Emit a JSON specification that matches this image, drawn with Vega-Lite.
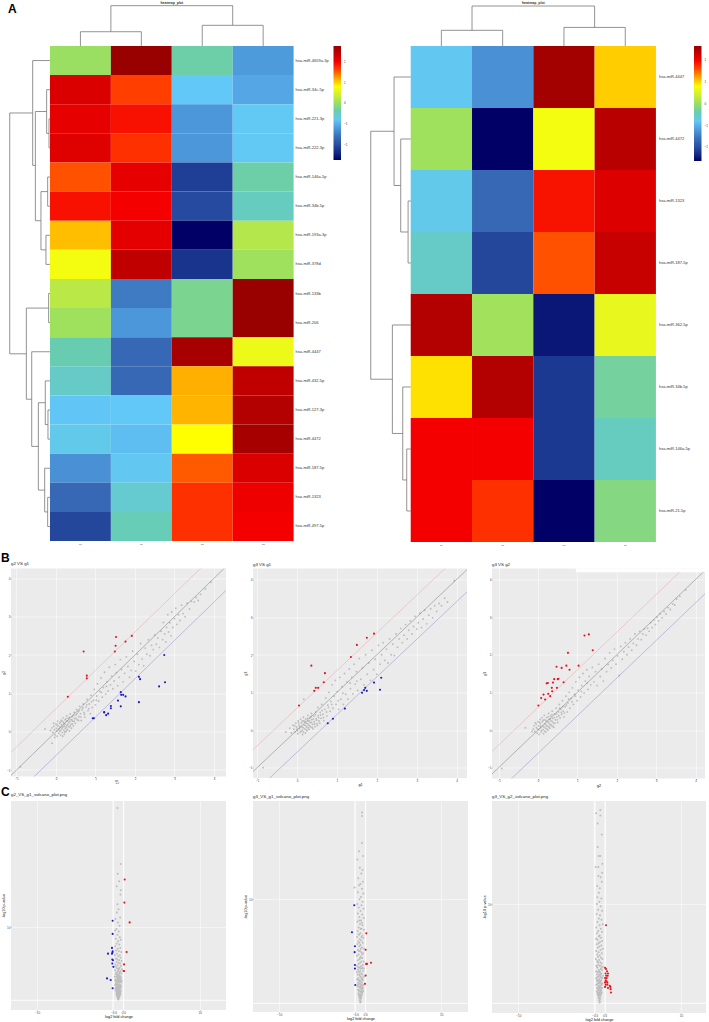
{"$schema":"https://vega.github.io/schema/vega-lite/v6.json","padding":0,"background":"white","columns":5,"align":"none","bounds":"flush","spacing":{"row":22.5,"column":0},
"config":{"view":{"stroke":null},"font":"Liberation Sans","axis":{"domain":false,"tickColor":"#333333","tickSize":0.8,"tickWidth":0.4,"labelFontSize":3,"labelColor":"#4d4d4d","labelPadding":0.3,"titleFontSize":3.8,"titleFontWeight":"normal","titleColor":"#111111","titlePadding":0.8,"gridColor":"#ffffff","gridWidth":0.5,"labelOverlap":false,"labelFont":"Liberation Sans","titleFont":"Liberation Sans"},"title":{"font":"Liberation Sans","fontSize":4.4,"fontWeight":"normal","anchor":"start","frame":"group","offset":1.5,"color":"#222222"}},
"datasets":{
"h1":[{"x":0,"x2":1,"y":0,"y2":1,"v":0},{"x":1,"x2":2,"y":0,"y2":1,"v":1.38},{"x":2,"x2":3,"y":0,"y2":1,"v":-0.18},{"x":3,"x2":4,"y":0,"y2":1,"v":-0.6},
{"x":0,"x2":1,"y":1,"y2":2,"v":1.1},{"x":1,"x2":2,"y":1,"y2":2,"v":0.82},{"x":2,"x2":3,"y":1,"y2":2,"v":-0.42},{"x":3,"x2":4,"y":1,"y2":2,"v":-0.55},
{"x":0,"x2":1,"y":2,"y2":3,"v":1.05},{"x":1,"x2":2,"y":2,"y2":3,"v":0.95},{"x":2,"x2":3,"y":2,"y2":3,"v":-0.62},{"x":3,"x2":4,"y":2,"y2":3,"v":-0.41},
{"x":0,"x2":1,"y":3,"y2":4,"v":1.08},{"x":1,"x2":2,"y":3,"y2":4,"v":0.85},{"x":2,"x2":3,"y":3,"y2":4,"v":-0.62},{"x":3,"x2":4,"y":3,"y2":4,"v":-0.41},
{"x":0,"x2":1,"y":4,"y2":5,"v":0.78},{"x":1,"x2":2,"y":4,"y2":5,"v":1.05},{"x":2,"x2":3,"y":4,"y2":5,"v":-1.1},{"x":3,"x2":4,"y":4,"y2":5,"v":-0.18},
{"x":0,"x2":1,"y":5,"y2":6,"v":0.95},{"x":1,"x2":2,"y":5,"y2":6,"v":1},{"x":2,"x2":3,"y":5,"y2":6,"v":-1.03},{"x":3,"x2":4,"y":5,"y2":6,"v":-0.25},
{"x":0,"x2":1,"y":6,"y2":7,"v":0.55},{"x":1,"x2":2,"y":6,"y2":7,"v":1.06},{"x":2,"x2":3,"y":6,"y2":7,"v":-1.38},{"x":3,"x2":4,"y":6,"y2":7,"v":0.1},
{"x":0,"x2":1,"y":7,"y2":8,"v":0.36},{"x":1,"x2":2,"y":7,"y2":8,"v":1.2},{"x":2,"x2":3,"y":7,"y2":8,"v":-1.15},{"x":3,"x2":4,"y":7,"y2":8,"v":0.02},
{"x":0,"x2":1,"y":8,"y2":9,"v":0.12},{"x":1,"x2":2,"y":8,"y2":9,"v":-0.75},{"x":2,"x2":3,"y":8,"y2":9,"v":-0.12},{"x":3,"x2":4,"y":8,"y2":9,"v":1.38},
{"x":0,"x2":1,"y":9,"y2":10,"v":0.02},{"x":1,"x2":2,"y":9,"y2":10,"v":-0.62},{"x":2,"x2":3,"y":9,"y2":10,"v":-0.12},{"x":3,"x2":4,"y":9,"y2":10,"v":1.38},
{"x":0,"x2":1,"y":10,"y2":11,"v":-0.2},{"x":1,"x2":2,"y":10,"y2":11,"v":-0.85},{"x":2,"x2":3,"y":10,"y2":11,"v":1.32},{"x":3,"x2":4,"y":10,"y2":11,"v":0.32},
{"x":0,"x2":1,"y":11,"y2":12,"v":-0.27},{"x":1,"x2":2,"y":11,"y2":12,"v":-0.85},{"x":2,"x2":3,"y":11,"y2":12,"v":0.58},{"x":3,"x2":4,"y":11,"y2":12,"v":1.2},
{"x":0,"x2":1,"y":12,"y2":13,"v":-0.43},{"x":1,"x2":2,"y":12,"y2":13,"v":-0.42},{"x":2,"x2":3,"y":12,"y2":13,"v":0.57},{"x":3,"x2":4,"y":12,"y2":13,"v":1.26},
{"x":0,"x2":1,"y":13,"y2":14,"v":-0.38},{"x":1,"x2":2,"y":13,"y2":14,"v":-0.46},{"x":2,"x2":3,"y":13,"y2":14,"v":0.42},{"x":3,"x2":4,"y":13,"y2":14,"v":1.32},
{"x":0,"x2":1,"y":14,"y2":15,"v":-0.65},{"x":1,"x2":2,"y":14,"y2":15,"v":-0.4},{"x":2,"x2":3,"y":14,"y2":15,"v":0.76},{"x":3,"x2":4,"y":14,"y2":15,"v":1.1},
{"x":0,"x2":1,"y":15,"y2":16,"v":-0.85},{"x":1,"x2":2,"y":15,"y2":16,"v":-0.3},{"x":2,"x2":3,"y":15,"y2":16,"v":0.85},{"x":3,"x2":4,"y":15,"y2":16,"v":1.02},
{"x":0,"x2":1,"y":16,"y2":17,"v":-1.05},{"x":1,"x2":2,"y":16,"y2":17,"v":-0.22},{"x":2,"x2":3,"y":16,"y2":17,"v":0.85},{"x":3,"x2":4,"y":16,"y2":17,"v":1}],
"h2":[{"x":0,"x2":1,"y":0,"y2":1,"v":-0.4},{"x":1,"x2":2,"y":0,"y2":1,"v":-0.65},{"x":2,"x2":3,"y":0,"y2":1,"v":1.28},{"x":3,"x2":4,"y":0,"y2":1,"v":0.52},
{"x":0,"x2":1,"y":1,"y2":2,"v":0.02},{"x":1,"x2":2,"y":1,"y2":2,"v":-1.32},{"x":2,"x2":3,"y":1,"y2":2,"v":0.36},{"x":3,"x2":4,"y":1,"y2":2,"v":1.2},
{"x":0,"x2":1,"y":2,"y2":3,"v":-0.38},{"x":1,"x2":2,"y":2,"y2":3,"v":-0.85},{"x":2,"x2":3,"y":2,"y2":3,"v":0.94},{"x":3,"x2":4,"y":2,"y2":3,"v":1.08},
{"x":0,"x2":1,"y":3,"y2":4,"v":-0.27},{"x":1,"x2":2,"y":3,"y2":4,"v":-1.05},{"x":2,"x2":3,"y":3,"y2":4,"v":0.78},{"x":3,"x2":4,"y":3,"y2":4,"v":1.15},
{"x":0,"x2":1,"y":4,"y2":5,"v":1.22},{"x":1,"x2":2,"y":4,"y2":5,"v":0.03},{"x":2,"x2":3,"y":4,"y2":5,"v":-1.24},{"x":3,"x2":4,"y":4,"y2":5,"v":0.3},
{"x":0,"x2":1,"y":5,"y2":6,"v":0.48},{"x":1,"x2":2,"y":5,"y2":6,"v":1.22},{"x":2,"x2":3,"y":5,"y2":6,"v":-1.12},{"x":3,"x2":4,"y":5,"y2":6,"v":-0.15},
{"x":0,"x2":1,"y":6,"y2":7,"v":1},{"x":1,"x2":2,"y":6,"y2":7,"v":1},{"x":2,"x2":3,"y":6,"y2":7,"v":-1.12},{"x":3,"x2":4,"y":6,"y2":7,"v":-0.25},
{"x":0,"x2":1,"y":7,"y2":8,"v":1},{"x":1,"x2":2,"y":7,"y2":8,"v":0.85},{"x":2,"x2":3,"y":7,"y2":8,"v":-1.32},{"x":3,"x2":4,"y":7,"y2":8,"v":-0.08}],
"t1":[{"x":4.033,"y":0.5,"t":"hsa-miR-4659a-3p"},{"x":4.033,"y":1.5,"t":"hsa-miR-34c-5p"},{"x":4.033,"y":2.5,"t":"hsa-miR-221-3p"},{"x":4.033,"y":3.5,"t":"hsa-miR-222-3p"},{"x":4.033,"y":4.5,"t":"hsa-miR-146a-5p"},{"x":4.033,"y":5.5,"t":"hsa-miR-34b-5p"},{"x":4.033,"y":6.5,"t":"hsa-miR-193a-3p"},{"x":4.033,"y":7.5,"t":"hsa-miR-378d"},{"x":4.033,"y":8.5,"t":"hsa-miR-133b"},{"x":4.033,"y":9.5,"t":"hsa-miR-206"},{"x":4.033,"y":10.5,"t":"hsa-miR-4447"},{"x":4.033,"y":11.5,"t":"hsa-miR-432-5p"},{"x":4.033,"y":12.5,"t":"hsa-miR-127-3p"},{"x":4.033,"y":13.5,"t":"hsa-miR-4472"},{"x":4.033,"y":14.5,"t":"hsa-miR-187-5p"},{"x":4.033,"y":15.5,"t":"hsa-miR-1323"},{"x":4.033,"y":16.5,"t":"hsa-miR-497-5p"}],
"t2":[{"x":4.05,"y":0.5,"t":"hsa-miR-4447"},{"x":4.05,"y":1.5,"t":"hsa-miR-4472"},{"x":4.05,"y":2.5,"t":"hsa-miR-1323"},{"x":4.05,"y":3.5,"t":"hsa-miR-187-5p"},{"x":4.05,"y":4.5,"t":"hsa-miR-362-5p"},{"x":4.05,"y":5.5,"t":"hsa-miR-34b-5p"},{"x":4.05,"y":6.5,"t":"hsa-miR-146a-5p"},{"x":4.05,"y":7.5,"t":"hsa-miR-21-5p"}],
"d1":[{"x":-0.016,"x2":0,"y":2.5,"y2":2.5},{"x":-0.016,"x2":0,"y":3.5,"y2":3.5},{"x":-0.016,"x2":-0.016,"y":2.5,"y2":3.5},{"x":-0.055,"x2":0,"y":1.5,"y2":1.5},{"x":-0.055,"x2":-0.016,"y":3,"y2":3},{"x":-0.055,"x2":-0.055,"y":1.5,"y2":3},{"x":-0.038,"x2":0,"y":4.5,"y2":4.5},{"x":-0.038,"x2":0,"y":5.5,"y2":5.5},{"x":-0.038,"x2":-0.038,"y":4.5,"y2":5.5},{"x":-0.066,"x2":0,"y":6.5,"y2":6.5},{"x":-0.066,"x2":0,"y":7.5,"y2":7.5},{"x":-0.066,"x2":-0.066,"y":6.5,"y2":7.5},{"x":-0.148,"x2":-0.038,"y":5,"y2":5},{"x":-0.148,"x2":-0.066,"y":7,"y2":7},{"x":-0.148,"x2":-0.148,"y":5,"y2":7},{"x":-0.24,"x2":-0.055,"y":2.25,"y2":2.25},{"x":-0.24,"x2":-0.148,"y":6,"y2":6},{"x":-0.24,"x2":-0.24,"y":2.25,"y2":6},{"x":-0.284,"x2":0,"y":0.5,"y2":0.5},{"x":-0.284,"x2":-0.24,"y":4.1,"y2":4.1},{"x":-0.284,"x2":-0.284,"y":0.5,"y2":4.1},{"x":-0.022,"x2":0,"y":8.5,"y2":8.5},{"x":-0.022,"x2":0,"y":9.5,"y2":9.5},{"x":-0.022,"x2":-0.022,"y":8.5,"y2":9.5},{"x":-0.033,"x2":0,"y":12.5,"y2":12.5},{"x":-0.033,"x2":0,"y":13.5,"y2":13.5},{"x":-0.033,"x2":-0.033,"y":12.5,"y2":13.5},{"x":-0.077,"x2":0,"y":11.5,"y2":11.5},{"x":-0.077,"x2":-0.033,"y":13,"y2":13},{"x":-0.077,"x2":-0.077,"y":11.5,"y2":13},{"x":-0.038,"x2":0,"y":15.5,"y2":15.5},{"x":-0.038,"x2":0,"y":16.5,"y2":16.5},{"x":-0.038,"x2":-0.038,"y":15.5,"y2":16.5},{"x":-0.087,"x2":0,"y":14.5,"y2":14.5},{"x":-0.087,"x2":-0.038,"y":16,"y2":16},{"x":-0.087,"x2":-0.087,"y":14.5,"y2":16},{"x":-0.191,"x2":-0.077,"y":12.25,"y2":12.25},{"x":-0.191,"x2":-0.087,"y":15.25,"y2":15.25},{"x":-0.191,"x2":-0.191,"y":12.25,"y2":15.25},{"x":-0.3,"x2":0,"y":10.5,"y2":10.5},{"x":-0.3,"x2":-0.191,"y":13.75,"y2":13.75},{"x":-0.3,"x2":-0.3,"y":10.5,"y2":13.75},{"x":-0.388,"x2":-0.022,"y":9,"y2":9},{"x":-0.388,"x2":-0.3,"y":12.13,"y2":12.13},{"x":-0.388,"x2":-0.388,"y":9,"y2":12.13},{"x":-0.661,"x2":-0.284,"y":2.3,"y2":2.3},{"x":-0.661,"x2":-0.388,"y":10.57,"y2":10.57},{"x":-0.661,"x2":-0.661,"y":2.3,"y2":10.57},
{"x":0.5,"x2":0.5,"y":-0.49,"y2":0},{"x":1.5,"x2":1.5,"y":-0.49,"y2":0},{"x":0.5,"x2":1.5,"y":-0.49,"y2":-0.49},{"x":2.5,"x2":2.5,"y":-0.71,"y2":0},{"x":3.5,"x2":3.5,"y":-0.71,"y2":0},{"x":2.5,"x2":3.5,"y":-0.71,"y2":-0.71},{"x":1,"x2":1,"y":-1.385,"y2":-0.49},{"x":3,"x2":3,"y":-1.385,"y2":-0.71},{"x":1,"x2":3,"y":-1.385,"y2":-1.385}],
"d2":[{"x":-0.043,"x2":0,"y":2.5,"y2":2.5},{"x":-0.043,"x2":0,"y":3.5,"y2":3.5},{"x":-0.043,"x2":-0.043,"y":2.5,"y2":3.5},{"x":-0.163,"x2":0,"y":1.5,"y2":1.5},{"x":-0.163,"x2":-0.043,"y":3,"y2":3},{"x":-0.163,"x2":-0.163,"y":1.5,"y2":3},{"x":-0.272,"x2":0,"y":0.5,"y2":0.5},{"x":-0.272,"x2":-0.163,"y":2.25,"y2":2.25},{"x":-0.272,"x2":-0.272,"y":0.5,"y2":2.25},{"x":-0.065,"x2":0,"y":6.5,"y2":6.5},{"x":-0.065,"x2":0,"y":7.5,"y2":7.5},{"x":-0.065,"x2":-0.065,"y":6.5,"y2":7.5},{"x":-0.13,"x2":0,"y":5.5,"y2":5.5},{"x":-0.13,"x2":-0.065,"y":7,"y2":7},{"x":-0.13,"x2":-0.13,"y":5.5,"y2":7},{"x":-0.299,"x2":0,"y":4.5,"y2":4.5},{"x":-0.299,"x2":-0.13,"y":6.25,"y2":6.25},{"x":-0.299,"x2":-0.299,"y":4.5,"y2":6.25},{"x":-0.652,"x2":-0.272,"y":1.375,"y2":1.375},{"x":-0.652,"x2":-0.299,"y":5.375,"y2":5.375},{"x":-0.652,"x2":-0.652,"y":1.375,"y2":5.375},
{"x":0.5,"x2":0.5,"y":-0.253,"y2":0},{"x":1.5,"x2":1.5,"y":-0.253,"y2":0},{"x":0.5,"x2":1.5,"y":-0.253,"y2":-0.253},{"x":2.5,"x2":2.5,"y":-0.3,"y2":0},{"x":3.5,"x2":3.5,"y":-0.3,"y2":0},{"x":2.5,"x2":3.5,"y":-0.3,"y2":-0.3},{"x":1,"x2":1,"y":-0.645,"y2":-0.253},{"x":3,"x2":3,"y":-0.645,"y2":-0.3},{"x":1,"x2":3,"y":-0.645,"y2":-0.645}],
"b1c":[{"x":0.3,"y":0.91,"c":"up"},{"x":0.7,"y":2.09,"c":"up"},{"x":0.78,"y":1.46,"c":"up"},{"x":0.78,"y":1.39,"c":"up"},{"x":1.49,"y":2.09,"c":"up"},{"x":1.51,"y":2.24,"c":"up"},{"x":1.52,"y":2.47,"c":"up"},{"x":1.76,"y":2.35,"c":"up"},{"x":1.92,"y":2.5,"c":"up"},
{"x":0.96,"y":0.35,"c":"down"},{"x":0.93,"y":0.35,"c":"down"},{"x":1.22,"y":0.51,"c":"down"},{"x":1.22,"y":0.5,"c":"down"},{"x":1.27,"y":0.43,"c":"down"},{"x":1.32,"y":0.47,"c":"down"},{"x":1.39,"y":0.67,"c":"down"},{"x":1.39,"y":0.61,"c":"down"},{"x":1.57,"y":0.81,"c":"down"},{"x":1.64,"y":0.66,"c":"down"},{"x":1.64,"y":1.03,"c":"down"},{"x":1.65,"y":0.96,"c":"down"},{"x":1.7,"y":0.96,"c":"down"},{"x":1.76,"y":0.92,"c":"down"},{"x":2.1,"y":0.77,"c":"down"},{"x":2.1,"y":1.43,"c":"down"},{"x":2.13,"y":1.37,"c":"down"},{"x":2.61,"y":1.18,"c":"down"},{"x":2.76,"y":1.29,"c":"down"},{"x":2.74,"y":2,"c":"down"}],
"b2c":[{"x":0.05,"y":0.65,"c":"up"},{"x":0.36,"y":1.71,"c":"up"},{"x":0.43,"y":1.04,"c":"up"},{"x":0.47,"y":1.12,"c":"up"},{"x":0.53,"y":1.12,"c":"up"},{"x":0.67,"y":1.27,"c":"up"},{"x":0.7,"y":1.51,"c":"up"},{"x":1.35,"y":1.94,"c":"up"},{"x":1.5,"y":2.26,"c":"up"},{"x":1.75,"y":2.45,"c":"up"},{"x":1.93,"y":2.56,"c":"up"},
{"x":0.77,"y":0.18,"c":"down"},{"x":0.9,"y":0.3,"c":"down"},{"x":1.2,"y":0.57,"c":"down"},{"x":1.63,"y":0.99,"c":"down"},{"x":1.68,"y":1.06,"c":"down"},{"x":1.71,"y":1.12,"c":"down"},{"x":1.75,"y":1.04,"c":"down"},{"x":1.93,"y":1.26,"c":"down"},{"x":2.08,"y":1.07,"c":"down"},{"x":2.11,"y":1.39,"c":"down"}],
"b3c":[{"x":0.01,"y":0.65,"c":"up"},{"x":0.08,"y":0.85,"c":"up"},{"x":0.14,"y":0.94,"c":"up"},{"x":0.18,"y":0.81,"c":"up"},{"x":0.26,"y":0.96,"c":"up"},{"x":0.31,"y":0.9,"c":"up"},{"x":0.35,"y":1.12,"c":"up"},{"x":0.36,"y":1.03,"c":"up"},{"x":0.38,"y":1.26,"c":"up"},{"x":0.22,"y":1.24,"c":"up"},{"x":0.25,"y":1.25,"c":"up"},{"x":0.41,"y":1.35,"c":"up"},{"x":0.47,"y":1.68,"c":"up"},{"x":0.48,"y":1.12,"c":"up"},{"x":0.5,"y":1.35,"c":"up"},{"x":0.52,"y":1.36,"c":"up"},{"x":0.6,"y":1.65,"c":"up"},{"x":0.65,"y":1.27,"c":"up"},{"x":0.72,"y":1.71,"c":"up"},{"x":0.76,"y":2.05,"c":"up"},{"x":0.8,"y":1.6,"c":"up"},{"x":1.03,"y":1.71,"c":"up"},{"x":1.18,"y":2.51,"c":"up"},{"x":1.29,"y":2.54,"c":"up"},{"x":1.39,"y":2.12,"c":"up"}],
"c1c":[{"x":0.78,"y":1.58,"c":"up"},{"x":0.74,"y":1.3,"c":"up"},{"x":1.39,"y":1.06,"c":"up"},{"x":1.02,"y":0.7,"c":"up"},{"x":0.7,"y":0.55,"c":"up"},{"x":0.7,"y":0.47,"c":"up"},{"x":0.65,"y":0.47,"c":"up"},
{"x":-0.7,"y":1.08,"c":"down"},{"x":-0.7,"y":0.92,"c":"down"},{"x":-0.78,"y":0.75,"c":"down"},{"x":-0.7,"y":0.71,"c":"down"},{"x":-0.72,"y":0.69,"c":"down"},{"x":-0.78,"y":0.68,"c":"down"},{"x":-1.27,"y":0.68,"c":"down"},{"x":-0.74,"y":0.61,"c":"down"},{"x":-0.66,"y":0.6,"c":"down"},{"x":-0.74,"y":0.56,"c":"down"},{"x":-0.61,"y":0.52,"c":"down"},{"x":-1.39,"y":0.38,"c":"down"},{"x":-0.94,"y":0.36,"c":"down"},{"x":-0.7,"y":0.26,"c":"down"}],
"c2c":[{"x":0.74,"y":0.71,"c":"up"},{"x":0.66,"y":0.57,"c":"up"},{"x":0.82,"y":0.45,"c":"up"},{"x":0.72,"y":0.45,"c":"up"},{"x":1.32,"y":0.46,"c":"up"},{"x":0.66,"y":0.35,"c":"up"},{"x":0.58,"y":0.28,"c":"up"},
{"x":-0.74,"y":0.95,"c":"down"},{"x":-1.03,"y":0.72,"c":"down"},{"x":-0.66,"y":0.6,"c":"down"},{"x":-0.7,"y":0.55,"c":"down"},{"x":-0.66,"y":0.44,"c":"down"},{"x":-0.66,"y":0.41,"c":"down"},{"x":-0.62,"y":0.27,"c":"down"}],
"c3c":[{"x":0.78,"y":0.81,"c":"up"},{"x":0.66,"y":0.43,"c":"up"},{"x":0.78,"y":0.42,"c":"up"},{"x":0.9,"y":0.4,"c":"up"},{"x":1.02,"y":0.38,"c":"up"},{"x":0.98,"y":0.36,"c":"up"},{"x":0.66,"y":0.34,"c":"up"},{"x":0.74,"y":0.32,"c":"up"},{"x":0.82,"y":0.31,"c":"up"},{"x":0.94,"y":0.3,"c":"up"},{"x":0.66,"y":0.3,"c":"up"},{"x":0.74,"y":0.28,"c":"up"},{"x":0.94,"y":0.28,"c":"up"},{"x":1.23,"y":0.27,"c":"up"},{"x":1.31,"y":0.26,"c":"up"},{"x":1.02,"y":0.25,"c":"up"},{"x":0.66,"y":0.26,"c":"up"},{"x":1.39,"y":0.21,"c":"up"},{"x":1.35,"y":0.24,"c":"up"},{"x":0.8,"y":0.36,"c":"up"},{"x":0.72,"y":0.38,"c":"up"},{"x":0.86,"y":0.34,"c":"up"}],
"b1g":[{"x":-0.14,"y":0.03},{"x":-0.1,"y":0.1},{"x":-0.08,"y":-0.02},{"x":-0.05,"y":0.14},{"x":-0.04,"y":0.05},{"x":-0.02,"y":-0.08},{"x":0,"y":0.2},{"x":0.01,"y":0.09},{"x":0.02,"y":0.01},{"x":0.03,"y":-0.12},{"x":0.04,"y":0.27},{"x":0.05,"y":0.15},{"x":0.06,"y":0.05},{"x":0.07,"y":-0.04},{"x":0.09,"y":0.22},{"x":0.1,"y":0.12},{"x":0.1,"y":0.01},{"x":0.12,"y":-0.09},{"x":0.13,"y":0.3},{"x":0.14,"y":0.18},{"x":0.15,"y":0.08},{"x":0.16,"y":-0.02},{"x":0.18,"y":0.36},{"x":0.18,"y":0.25},{"x":0.19,"y":0.13},{"x":0.2,"y":0.04},{"x":0.21,"y":-0.07},{"x":0.23,"y":0.31},{"x":0.23,"y":0.2},{"x":0.24,"y":0.09},{"x":0.25,"y":0},{"x":0.27,"y":0.41},{"x":0.27,"y":0.27},{"x":0.28,"y":0.16},{"x":0.29,"y":0.06},{"x":0.31,"y":0.35},{"x":0.32,"y":0.23},{"x":0.33,"y":0.12},{"x":0.34,"y":0.02},{"x":0.36,"y":0.46},{"x":0.37,"y":0.31},{"x":0.38,"y":0.19},{"x":0.39,"y":0.09},{"x":0.41,"y":0.39},{"x":0.42,"y":0.27},{"x":0.44,"y":0.15},{"x":0.46,"y":0.5},{"x":0.47,"y":0.34},{"x":0.49,"y":0.22},{"x":0.51,"y":0.44},{"x":0.52,"y":0.58},{"x":0.54,"y":0.31},{"x":0.56,"y":0.52},{"x":0.58,"y":0.39},{"x":0.6,"y":0.66},{"x":0.62,"y":0.47},{"x":0.64,"y":0.29},{"x":0.66,"y":0.57},{"x":0.69,"y":0.72},{"x":0.71,"y":0.5},{"x":0.73,"y":0.38},{"x":0.76,"y":0.64},{"x":0.79,"y":0.84},{"x":0.81,"y":0.55},{"x":0.84,"y":0.72},{"x":0.87,"y":0.47},{"x":0.89,"y":0.95},{"x":0.92,"y":0.63},{"x":0.95,"y":0.82},{"x":0.97,"y":1.1},{"x":1,"y":0.7},{"x":1.03,"y":0.93},{"x":1.05,"y":1.25},{"x":1.08,"y":0.8},{"x":1.11,"y":1.05},{"x":1.14,"y":1.4},{"x":1.17,"y":0.9},{"x":1.2,"y":1.15},{"x":1.23,"y":1.55},{"x":1.26,"y":0.98},{"x":1.29,"y":1.3},{"x":1.32,"y":1.06},{"x":1.35,"y":1.68},{"x":1.38,"y":1.22},{"x":1.41,"y":1.45},{"x":1.44,"y":1.12},{"x":1.47,"y":1.32},{"x":1.5,"y":1.75},{"x":1.53,"y":1.54},{"x":1.56,"y":1.2},{"x":1.6,"y":1.42},{"x":1.63,"y":1.88},{"x":1.66,"y":1.62},{"x":1.7,"y":1.3},{"x":1.74,"y":1.52},{"x":1.78,"y":1.95},{"x":1.82,"y":1.7},{"x":1.86,"y":1.42},{"x":1.9,"y":1.6},{"x":1.94,"y":2.1},{"x":1.98,"y":1.83},{"x":2.02,"y":1.58},{"x":2.06,"y":2.02},{"x":2.1,"y":1.75},{"x":2.14,"y":2.3},{"x":2.18,"y":1.9},{"x":2.22,"y":1.72},{"x":2.26,"y":2.18},{"x":2.3,"y":2.02},{"x":2.34,"y":2.4},{"x":2.38,"y":1.98},{"x":2.42,"y":2.25},{"x":2.46,"y":2.14},{"x":2.5,"y":2.52},{"x":2.54,"y":2.28},{"x":2.58,"y":2.44},{"x":2.62,"y":2.2},{"x":2.66,"y":2.62},{"x":2.7,"y":2.4},{"x":2.72,"y":2.85},{"x":2.75,"y":2.55},{"x":2.78,"y":2.34},{"x":2.8,"y":2.72},{"x":2.83,"y":3.05},{"x":2.85,"y":2.6},{"x":2.88,"y":2.84},{"x":2.91,"y":2.5},{"x":2.93,"y":3.12},{"x":2.96,"y":2.72},{"x":3,"y":2.95},{"x":3.03,"y":3.22},{"x":3.06,"y":2.8},{"x":3.1,"y":3.05},{"x":3.14,"y":2.9},{"x":3.18,"y":3.3},{"x":3.22,"y":3.08},{"x":3.27,"y":3},{"x":3.32,"y":3.35},{"x":3.38,"y":3.2},{"x":3.43,"y":3.4},{"x":3.5,"y":3.38},{"x":3.55,"y":3.5},{"x":3.6,"y":3.42},{"x":3.66,"y":3.58},{"x":3.78,"y":3.72},{"x":3.92,"y":3.9},{"x":-0.9,"y":-0.92},{"x":-0.1,"y":-0.3},{"x":-0.28,"y":0.07},{"x":-0.06,"y":0.22},{"x":-0.03,"y":-0.15},{"x":0.03,"y":0.17},{"x":0.08,"y":0.08},{"x":0.11,"y":0.25},{"x":0.12,"y":0.04},{"x":0.15,"y":0.28},{"x":0.16,"y":0.11},{"x":0.17,"y":-0.12},{"x":0.2,"y":0.22},{"x":0.21,"y":0.15},{"x":0.22,"y":-0.01},{"x":0.25,"y":0.34},{"x":0.26,"y":0.12},{"x":0.27,"y":0.03},{"x":0.3,"y":0.28},{"x":0.3,"y":0.18},{"x":0.34,"y":0.38},{"x":0.35,"y":0.26},{"x":0.36,"y":0.14},{"x":0.4,"y":0.31},{"x":0.41,"y":0.2},{"x":0.45,"y":0.42},{"x":0.46,"y":0.27},{"x":0.5,"y":0.35},{"x":0.53,"y":0.47},{"x":0.57,"y":0.29},{"x":0.59,"y":0.55},{"x":0.63,"y":0.38},{"x":0.68,"y":0.62},{"x":0.72,"y":0.45},{"x":0.78,"y":0.7},{"x":0.83,"y":0.6},{"x":0.9,"y":0.78},{"x":1.02,"y":0.82},{"x":1.15,"y":1.02},{"x":1.28,"y":1.18}],
"b2g":[{"x":-0.18,"y":0.05},{"x":-0.14,"y":-0.08},{"x":-0.1,"y":0.13},{"x":-0.08,"y":0.02},{"x":-0.05,"y":-0.05},{"x":-0.03,"y":0.18},{"x":-0.01,"y":0.08},{"x":0.01,"y":-0.02},{"x":0.02,"y":-0.1},{"x":0.03,"y":0.24},{"x":0.05,"y":0.13},{"x":0.06,"y":0.04},{"x":0.08,"y":-0.06},{"x":0.09,"y":0.29},{"x":0.11,"y":0.19},{"x":0.12,"y":0.08},{"x":0.13,"y":-0.01},{"x":0.14,"y":-0.12},{"x":0.16,"y":0.34},{"x":0.17,"y":0.24},{"x":0.18,"y":0.13},{"x":0.19,"y":0.03},{"x":0.21,"y":-0.08},{"x":0.22,"y":0.29},{"x":0.23,"y":0.18},{"x":0.24,"y":0.08},{"x":0.25,"y":-0.02},{"x":0.27,"y":0.39},{"x":0.28,"y":0.24},{"x":0.29,"y":0.13},{"x":0.3,"y":0.02},{"x":0.32,"y":0.33},{"x":0.33,"y":0.2},{"x":0.34,"y":0.08},{"x":0.36,"y":0.44},{"x":0.37,"y":0.28},{"x":0.39,"y":0.15},{"x":0.4,"y":0.03},{"x":0.42,"y":0.37},{"x":0.43,"y":0.22},{"x":0.45,"y":0.09},{"x":0.47,"y":0.48},{"x":0.48,"y":0.3},{"x":0.5,"y":0.17},{"x":0.52,"y":0.6},{"x":0.53,"y":0.38},{"x":0.55,"y":0.24},{"x":0.58,"y":0.47},{"x":0.6,"y":0.31},{"x":0.62,"y":0.68},{"x":0.65,"y":0.42},{"x":0.67,"y":0.25},{"x":0.7,"y":0.55},{"x":0.72,"y":0.85},{"x":0.75,"y":0.37},{"x":0.77,"y":0.66},{"x":0.8,"y":1},{"x":0.83,"y":0.5},{"x":0.85,"y":0.76},{"x":0.88,"y":1.2},{"x":0.9,"y":0.58},{"x":0.93,"y":0.9},{"x":0.96,"y":1.32},{"x":0.98,"y":0.68},{"x":1.01,"y":1.02},{"x":1.04,"y":0.55},{"x":1.07,"y":1.4},{"x":1.1,"y":0.82},{"x":1.13,"y":1.15},{"x":1.16,"y":0.68},{"x":1.19,"y":1.5},{"x":1.22,"y":0.95},{"x":1.25,"y":1.28},{"x":1.28,"y":0.82},{"x":1.31,"y":1.62},{"x":1.34,"y":1.1},{"x":1.37,"y":1.4},{"x":1.4,"y":0.96},{"x":1.43,"y":1.75},{"x":1.46,"y":1.22},{"x":1.49,"y":1.55},{"x":1.52,"y":1.05},{"x":1.56,"y":1.9},{"x":1.6,"y":1.35},{"x":1.64,"y":1.65},{"x":1.68,"y":1.2},{"x":1.72,"y":2},{"x":1.76,"y":1.48},{"x":1.8,"y":1.78},{"x":1.84,"y":1.32},{"x":1.88,"y":2.12},{"x":1.92,"y":1.6},{"x":1.96,"y":1.88},{"x":2,"y":1.48},{"x":2.04,"y":2.25},{"x":2.08,"y":1.75},{"x":2.12,"y":2},{"x":2.16,"y":2.32},{"x":2.2,"y":1.85},{"x":2.24,"y":2.15},{"x":2.28,"y":1.78},{"x":2.32,"y":2.42},{"x":2.36,"y":2},{"x":2.4,"y":2.28},{"x":2.44,"y":1.98},{"x":2.48,"y":2.55},{"x":2.52,"y":2.2},{"x":2.56,"y":2.42},{"x":2.6,"y":2.7},{"x":2.64,"y":2.32},{"x":2.68,"y":2.52},{"x":2.72,"y":2.8},{"x":2.76,"y":2.42},{"x":2.8,"y":2.65},{"x":2.84,"y":2.9},{"x":2.88,"y":2.55},{"x":2.92,"y":2.75},{"x":2.96,"y":3.02},{"x":3,"y":2.68},{"x":3.04,"y":2.85},{"x":3.08,"y":3.1},{"x":3.12,"y":2.72},{"x":3.16,"y":2.95},{"x":3.2,"y":3.18},{"x":3.25,"y":2.82},{"x":3.3,"y":3.05},{"x":3.35,"y":3.22},{"x":3.4,"y":2.98},{"x":3.45,"y":3.3},{"x":3.5,"y":3.15},{"x":3.56,"y":3.36},{"x":3.62,"y":3.3},{"x":3.7,"y":3.5},{"x":3.77,"y":3.4},{"x":-0.85,"y":-1},{"x":-0.28,"y":-0.05},{"x":0.17,"y":0.82},{"x":3.94,"y":3.97},{"x":-0.06,"y":0.11},{"x":0,"y":0.02},{"x":0.04,"y":0.19},{"x":0.07,"y":0.09},{"x":0.1,"y":-0.03},{"x":0.13,"y":0.24},{"x":0.15,"y":0.06},{"x":0.16,"y":-0.05},{"x":0.2,"y":0.22},{"x":0.21,"y":0.12},{"x":0.23,"y":0.01},{"x":0.26,"y":0.31},{"x":0.27,"y":0.17},{"x":0.28,"y":0.06},{"x":0.31,"y":0.25},{"x":0.32,"y":0.11},{"x":0.35,"y":0.36},{"x":0.36,"y":0.2},{"x":0.38,"y":0.07},{"x":0.41,"y":0.29},{"x":0.44,"y":0.16},{"x":0.46,"y":0.41},{"x":0.49,"y":0.26},{"x":0.51,"y":0.12},{"x":0.54,"y":0.33},{"x":0.57,"y":0.18},{"x":0.59,"y":0.4},{"x":0.63,"y":0.52},{"x":0.66,"y":0.33},{"x":0.74,"y":0.48},{"x":0.79,"y":0.6},{"x":0.87,"y":0.68},{"x":1.03,"y":0.78},{"x":1.15,"y":0.98},{"x":1.33,"y":1.25},{"x":1.5,"y":1.3}],
"b3g":[{"x":-0.32,"y":0.06},{"x":-0.12,"y":0.02},{"x":-0.1,"y":0.11},{"x":-0.08,"y":-0.04},{"x":-0.05,"y":0.16},{"x":-0.04,"y":0.06},{"x":-0.02,"y":-0.08},{"x":0,"y":0.22},{"x":0.01,"y":0.11},{"x":0.02,"y":0.01},{"x":0.03,"y":-0.12},{"x":0.05,"y":0.28},{"x":0.06,"y":0.17},{"x":0.07,"y":0.06},{"x":0.08,"y":-0.05},{"x":0.1,"y":0.33},{"x":0.11,"y":0.22},{"x":0.12,"y":0.11},{"x":0.13,"y":0.01},{"x":0.14,"y":-0.1},{"x":0.16,"y":0.39},{"x":0.17,"y":0.27},{"x":0.18,"y":0.16},{"x":0.19,"y":0.05},{"x":0.2,"y":-0.05},{"x":0.22,"y":0.33},{"x":0.23,"y":0.22},{"x":0.24,"y":0.1},{"x":0.25,"y":0},{"x":0.27,"y":0.44},{"x":0.28,"y":0.28},{"x":0.29,"y":0.16},{"x":0.3,"y":0.05},{"x":0.32,"y":0.37},{"x":0.33,"y":0.24},{"x":0.34,"y":0.12},{"x":0.36,"y":0.5},{"x":0.37,"y":0.31},{"x":0.39,"y":0.19},{"x":0.4,"y":0.07},{"x":0.42,"y":0.42},{"x":0.44,"y":0.27},{"x":0.46,"y":0.58},{"x":0.48,"y":0.35},{"x":0.5,"y":0.2},{"x":0.52,"y":0.48},{"x":0.54,"y":0.68},{"x":0.56,"y":0.32},{"x":0.58,"y":0.55},{"x":0.6,"y":0.42},{"x":0.62,"y":0.78},{"x":0.64,"y":0.5},{"x":0.66,"y":0.35},{"x":0.69,"y":0.62},{"x":0.71,"y":0.9},{"x":0.74,"y":0.48},{"x":0.76,"y":0.72},{"x":0.79,"y":1},{"x":0.81,"y":0.58},{"x":0.84,"y":0.84},{"x":0.87,"y":1.12},{"x":0.9,"y":0.68},{"x":0.93,"y":0.95},{"x":0.96,"y":1.28},{"x":0.99,"y":0.78},{"x":1.02,"y":1.06},{"x":1.05,"y":1.4},{"x":1.08,"y":0.88},{"x":1.11,"y":1.18},{"x":1.14,"y":1.5},{"x":1.17,"y":0.98},{"x":1.2,"y":1.3},{"x":1.24,"y":1.6},{"x":1.27,"y":1.08},{"x":1.3,"y":1.42},{"x":1.34,"y":1.2},{"x":1.38,"y":1.66},{"x":1.42,"y":1.28},{"x":1.46,"y":1.55},{"x":1.5,"y":1.18},{"x":1.54,"y":1.75},{"x":1.58,"y":1.42},{"x":1.62,"y":1.62},{"x":1.66,"y":1.3},{"x":1.7,"y":1.9},{"x":1.74,"y":1.55},{"x":1.78,"y":1.74},{"x":1.82,"y":2.05},{"x":1.86,"y":1.65},{"x":1.9,"y":1.85},{"x":1.94,"y":2.15},{"x":1.98,"y":1.75},{"x":2.02,"y":1.97},{"x":2.06,"y":1.45},{"x":2.1,"y":2.22},{"x":2.14,"y":1.88},{"x":2.18,"y":2.08},{"x":2.22,"y":2.32},{"x":2.26,"y":2},{"x":2.3,"y":2.2},{"x":2.34,"y":2.42},{"x":2.38,"y":2.12},{"x":2.42,"y":2.3},{"x":2.46,"y":2.55},{"x":2.5,"y":2.25},{"x":2.54,"y":2.42},{"x":2.58,"y":2.62},{"x":2.62,"y":2.4},{"x":2.66,"y":2.55},{"x":2.7,"y":2.68},{"x":2.74,"y":2.52},{"x":2.78,"y":2.7},{"x":2.82,"y":2.62},{"x":2.86,"y":2.85},{"x":2.9,"y":2.72},{"x":2.94,"y":2.92},{"x":2.98,"y":2.8},{"x":3.02,"y":3},{"x":3.06,"y":2.9},{"x":3.1,"y":3.08},{"x":3.15,"y":2.98},{"x":3.2,"y":3.15},{"x":3.25,"y":3.08},{"x":3.3,"y":3.25},{"x":3.36,"y":3.2},{"x":3.42,"y":3.35},{"x":3.47,"y":3.32},{"x":3.52,"y":3.48},{"x":3.6,"y":3.55},{"x":3.75,"y":3.72},{"x":-0.92,"y":-1.02},{"x":-0.15,"y":-0.04},{"x":-0.07,"y":0.19},{"x":-0.01,"y":0.03},{"x":0.04,"y":0.2},{"x":0.06,"y":0.1},{"x":0.09,"y":-0.02},{"x":0.13,"y":0.26},{"x":0.15,"y":0.08},{"x":0.17,"y":-0.03},{"x":0.2,"y":0.25},{"x":0.21,"y":0.12},{"x":0.23,"y":0.02},{"x":0.26,"y":0.35},{"x":0.27,"y":0.2},{"x":0.28,"y":0.08},{"x":0.31,"y":0.29},{"x":0.32,"y":0.14},{"x":0.35,"y":0.41},{"x":0.36,"y":0.23},{"x":0.38,"y":0.1},{"x":0.41,"y":0.33},{"x":0.43,"y":0.18},{"x":0.47,"y":0.43},{"x":0.49,"y":0.27},{"x":0.53,"y":0.38},{"x":0.55,"y":0.58},{"x":0.59,"y":0.47},{"x":0.63,"y":0.62},{"x":0.67,"y":0.45},{"x":0.72,"y":0.66},{"x":0.78,"y":0.82},{"x":0.86,"y":0.75},{"x":0.95,"y":0.9},{"x":1.1,"y":1.02},{"x":1.25,"y":1.25}],
"c1g":[{"x":-0.12,"y":2.45},{"x":0.28,"y":1.77},{"x":-0.08,"y":1.65},{"x":0.1,"y":1.56},{"x":-0.2,"y":1.5},{"x":0.3,"y":1.45},{"x":0.25,"y":1.4},{"x":-0.1,"y":1.28},{"x":0.02,"y":1.22},{"x":-0.18,"y":1.18},{"x":0.22,"y":1.12},{"x":-0.35,"y":1.1},{"x":-0.05,"y":1.06},{"x":0.15,"y":1.02},{"x":-0.22,"y":0.98},{"x":-0.4,"y":0.96},{"x":0.05,"y":0.95},{"x":-0.12,"y":0.91},{"x":0.18,"y":0.88},{"x":-0.3,"y":0.86},{"x":0.3,"y":0.85},{"x":-0.02,"y":0.83},{"x":-0.2,"y":0.8},{"x":0.12,"y":0.79},{"x":-0.38,"y":0.77},{"x":0.24,"y":0.75},{"x":-0.08,"y":0.74},{"x":-0.28,"y":0.72},{"x":0.06,"y":0.71},{"x":0.36,"y":0.7},{"x":-0.18,"y":0.68},{"x":0.18,"y":0.66},{"x":-0.42,"y":0.66},{"x":-0.02,"y":0.65},{"x":0.28,"y":0.63},{"x":-0.3,"y":0.62},{"x":-0.12,"y":0.61},{"x":0.1,"y":0.6},{"x":0.4,"y":0.59},{"x":-0.22,"y":0.58},{"x":0.02,"y":0.57},{"x":0.22,"y":0.56},{"x":-0.38,"y":0.55},{"x":-0.08,"y":0.54},{"x":0.32,"y":0.53},{"x":-0.28,"y":0.52},{"x":0.14,"y":0.51},{"x":-0.16,"y":0.5},{"x":0.04,"y":0.49},{"x":0.44,"y":0.49},{"x":-0.4,"y":0.48},{"x":0.26,"y":0.47},{"x":-0.06,"y":0.46},{"x":-0.26,"y":0.45},{"x":0.12,"y":0.44},{"x":0.36,"y":0.44},{"x":-0.34,"y":0.43},{"x":-0.14,"y":0.42},{"x":0.02,"y":0.42},{"x":0.22,"y":0.41},{"x":-0.44,"y":0.4},{"x":-0.22,"y":0.4},{"x":-0.04,"y":0.39},{"x":0.14,"y":0.39},{"x":0.32,"y":0.38},{"x":-0.32,"y":0.37},{"x":-0.12,"y":0.37},{"x":0.06,"y":0.36},{"x":0.24,"y":0.36},{"x":0.42,"y":0.35},{"x":-0.38,"y":0.35},{"x":-0.2,"y":0.34},{"x":-0.02,"y":0.34},{"x":0.16,"y":0.33},{"x":0.34,"y":0.33},{"x":-0.3,"y":0.32},{"x":-0.1,"y":0.31},{"x":0.08,"y":0.31},{"x":0.26,"y":0.3},{"x":-0.38,"y":0.3},{"x":-0.2,"y":0.29},{"x":0,"y":0.29},{"x":0.18,"y":0.28},{"x":0.36,"y":0.28},{"x":-0.3,"y":0.27},{"x":-0.12,"y":0.27},{"x":0.08,"y":0.26},{"x":0.28,"y":0.26},{"x":-0.34,"y":0.25},{"x":-0.2,"y":0.25},{"x":-0.02,"y":0.24},{"x":0.16,"y":0.24},{"x":0.32,"y":0.23},{"x":-0.28,"y":0.23},{"x":-0.12,"y":0.22},{"x":0.06,"y":0.22},{"x":0.24,"y":0.21},{"x":-0.2,"y":0.21},{"x":-0.04,"y":0.2},{"x":0.14,"y":0.2},{"x":-0.24,"y":0.19},{"x":0.26,"y":0.19},{"x":-0.1,"y":0.18},{"x":0.06,"y":0.18},{"x":0.18,"y":0.17},{"x":-0.16,"y":0.17},{"x":-0.02,"y":0.16},{"x":0.12,"y":0.16},{"x":-0.1,"y":0.15},{"x":0.04,"y":0.14},{"x":-0.04,"y":0.13},{"x":0,"y":0.125},{"x":-0.26,"y":0.31},{"x":-0.16,"y":0.3},{"x":0.04,"y":0.3},{"x":0.22,"y":0.3},{"x":-0.08,"y":0.28},{"x":0.12,"y":0.28},{"x":-0.24,"y":0.27},{"x":0.02,"y":0.27},{"x":0.2,"y":0.26},{"x":-0.16,"y":0.25},{"x":0.1,"y":0.24},{"x":-0.06,"y":0.23},{"x":0.2,"y":0.23},{"x":-0.22,"y":0.22},{"x":0.1,"y":0.21},{"x":0,"y":0.21},{"x":-0.14,"y":0.2},{"x":0.2,"y":0.19},{"x":0.02,"y":0.19},{"x":-0.06,"y":0.18},{"x":0.12,"y":0.18},{"x":-0.18,"y":0.18},{"x":0,"y":0.17},{"x":0.08,"y":0.15},{"x":-0.06,"y":0.15},{"x":-0.02,"y":0.35},{"x":0.2,"y":0.34},{"x":-0.14,"y":0.33},{"x":0.1,"y":0.35},{"x":-0.26,"y":0.36},{"x":0.18,"y":0.37},{"x":0,"y":0.38},{"x":-0.1,"y":0.4},{"x":0.08,"y":0.41},{"x":0.28,"y":0.4},{"x":-0.18,"y":0.43},{"x":0.16,"y":0.45},{"x":-0.02,"y":0.47},{"x":0.08,"y":0.5}],
"c2g":[{"x":0.2,"y":1.74},{"x":0.2,"y":1.71},{"x":0.2,"y":1.48},{"x":-0.16,"y":1.41},{"x":-0.37,"y":1.34},{"x":0.33,"y":1.37},{"x":-0.05,"y":1.27},{"x":0.28,"y":1.25},{"x":0.12,"y":1.22},{"x":-0.25,"y":1.18},{"x":0.32,"y":1.15},{"x":0.02,"y":1.13},{"x":-0.15,"y":1.12},{"x":-0.7,"y":1.1},{"x":0.2,"y":1.09},{"x":-0.3,"y":1.06},{"x":0.38,"y":1.05},{"x":0.08,"y":1.02},{"x":-0.1,"y":1},{"x":0.28,"y":0.98},{"x":-0.38,"y":0.96},{"x":0.14,"y":0.95},{"x":-0.2,"y":0.93},{"x":0.4,"y":0.92},{"x":0.02,"y":0.9},{"x":-0.3,"y":0.88},{"x":0.24,"y":0.87},{"x":-0.12,"y":0.85},{"x":0.42,"y":0.84},{"x":0.08,"y":0.82},{"x":-0.36,"y":0.81},{"x":-0.04,"y":0.79},{"x":0.28,"y":0.78},{"x":-0.2,"y":0.76},{"x":0.14,"y":0.75},{"x":0.44,"y":0.74},{"x":-0.32,"y":0.73},{"x":0.02,"y":0.71},{"x":-0.14,"y":0.7},{"x":0.26,"y":0.69},{"x":-0.4,"y":0.68},{"x":0.38,"y":0.67},{"x":-0.06,"y":0.66},{"x":0.12,"y":0.65},{"x":-0.24,"y":0.64},{"x":0.3,"y":0.63},{"x":-0.36,"y":0.62},{"x":0.02,"y":0.61},{"x":-0.14,"y":0.6},{"x":0.2,"y":0.59},{"x":0.44,"y":0.58},{"x":-0.3,"y":0.57},{"x":-0.04,"y":0.56},{"x":0.12,"y":0.55},{"x":0.34,"y":0.54},{"x":-0.2,"y":0.53},{"x":-0.42,"y":0.52},{"x":0.04,"y":0.51},{"x":0.24,"y":0.5},{"x":-0.1,"y":0.49},{"x":-0.3,"y":0.48},{"x":0.42,"y":0.47},{"x":0.14,"y":0.47},{"x":-0.02,"y":0.46},{"x":-0.2,"y":0.45},{"x":0.3,"y":0.44},{"x":-0.38,"y":0.43},{"x":0.06,"y":0.43},{"x":-0.1,"y":0.42},{"x":0.2,"y":0.41},{"x":0.46,"y":0.41},{"x":-0.28,"y":0.4},{"x":-0.02,"y":0.39},{"x":0.34,"y":0.39},{"x":-0.44,"y":0.38},{"x":-0.16,"y":0.38},{"x":0.12,"y":0.37},{"x":0.26,"y":0.36},{"x":-0.32,"y":0.36},{"x":-0.06,"y":0.35},{"x":0.04,"y":0.34},{"x":0.42,"y":0.34},{"x":-0.22,"y":0.33},{"x":0.18,"y":0.33},{"x":-0.4,"y":0.32},{"x":-0.1,"y":0.31},{"x":0.32,"y":0.31},{"x":0.06,"y":0.3},{"x":-0.28,"y":0.29},{"x":0.22,"y":0.29},{"x":-0.14,"y":0.28},{"x":-0.02,"y":0.28},{"x":0.4,"y":0.27},{"x":0.12,"y":0.27},{"x":-0.36,"y":0.26},{"x":-0.2,"y":0.26},{"x":0.28,"y":0.25},{"x":-0.06,"y":0.25},{"x":0.06,"y":0.24},{"x":-0.28,"y":0.23},{"x":0.2,"y":0.23},{"x":0.36,"y":0.22},{"x":-0.14,"y":0.22},{"x":0,"y":0.21},{"x":0.14,"y":0.21},{"x":-0.24,"y":0.2},{"x":0.26,"y":0.2},{"x":-0.08,"y":0.19},{"x":0.06,"y":0.19},{"x":-0.18,"y":0.18},{"x":0.18,"y":0.18},{"x":-0.02,"y":0.17},{"x":0.1,"y":0.16},{"x":-0.12,"y":0.16},{"x":0.02,"y":0.15},{"x":-0.06,"y":0.14},{"x":0.06,"y":0.13},{"x":-0.02,"y":0.12},{"x":-0.22,"y":0.42},{"x":0.28,"y":0.42},{"x":0.02,"y":0.41},{"x":-0.1,"y":0.36},{"x":0.26,"y":0.32},{"x":0.14,"y":0.32},{"x":-0.24,"y":0.31},{"x":-0.04,"y":0.3},{"x":0.02,"y":0.26},{"x":0.2,"y":0.27},{"x":-0.28,"y":0.27},{"x":-0.1,"y":0.25},{"x":0.14,"y":0.25},{"x":0.3,"y":0.24},{"x":-0.2,"y":0.23},{"x":0.06,"y":0.22},{"x":0.22,"y":0.21},{"x":-0.08,"y":0.22},{"x":-0.14,"y":0.19},{"x":0.12,"y":0.19},{"x":0,"y":0.18},{"x":-0.06,"y":0.17},{"x":0.04,"y":0.17},{"x":-0.02,"y":0.5},{"x":0.2,"y":0.53},{"x":-0.18,"y":0.56},{"x":0.06,"y":0.58},{"x":-0.1,"y":0.63},{"x":0.16,"y":0.68},{"x":-0.22,"y":0.7},{"x":0.02,"y":0.75},{"x":0.2,"y":0.8},{"x":-0.14,"y":0.82}],
"c3g":[{"x":-0.45,"y":1.81},{"x":0.08,"y":1.84},{"x":0.08,"y":1.79},{"x":-0.25,"y":1.72},{"x":0.25,"y":1.62},{"x":-0.25,"y":1.51},{"x":-0.12,"y":1.43},{"x":0.08,"y":1.43},{"x":0.33,"y":1.36},{"x":-0.5,"y":1.33},{"x":-0.16,"y":1.33},{"x":0.3,"y":1.28},{"x":-0.16,"y":1.25},{"x":0.12,"y":1.24},{"x":0.25,"y":1.2},{"x":-0.3,"y":1.16},{"x":0.02,"y":1.14},{"x":-0.1,"y":1.1},{"x":-0.28,"y":1.06},{"x":0.2,"y":1.05},{"x":-0.04,"y":1.02},{"x":-0.34,"y":1},{"x":0.12,"y":0.98},{"x":-0.18,"y":0.95},{"x":0.3,"y":0.94},{"x":-0.38,"y":0.91},{"x":0.04,"y":0.9},{"x":-0.1,"y":0.87},{"x":0.22,"y":0.86},{"x":-0.28,"y":0.84},{"x":0.36,"y":0.82},{"x":-0.02,"y":0.81},{"x":-0.42,"y":0.79},{"x":0.14,"y":0.78},{"x":-0.18,"y":0.76},{"x":0.28,"y":0.75},{"x":-0.34,"y":0.74},{"x":0,"y":0.72},{"x":-0.1,"y":0.71},{"x":0.16,"y":0.7},{"x":-0.44,"y":0.69},{"x":-0.26,"y":0.68},{"x":0.3,"y":0.67},{"x":0.04,"y":0.66},{"x":-0.14,"y":0.65},{"x":-0.36,"y":0.64},{"x":0.2,"y":0.63},{"x":-0.04,"y":0.62},{"x":-0.24,"y":0.61},{"x":0.38,"y":0.6},{"x":0.1,"y":0.59},{"x":-0.42,"y":0.58},{"x":-0.14,"y":0.57},{"x":0.26,"y":0.56},{"x":-0.3,"y":0.55},{"x":0.02,"y":0.54},{"x":-0.2,"y":0.53},{"x":0.16,"y":0.52},{"x":-0.46,"y":0.51},{"x":0.34,"y":0.51},{"x":-0.08,"y":0.5},{"x":-0.32,"y":0.49},{"x":0.08,"y":0.48},{"x":0.24,"y":0.47},{"x":-0.18,"y":0.46},{"x":-0.42,"y":0.45},{"x":0,"y":0.45},{"x":0.38,"y":0.44},{"x":-0.28,"y":0.43},{"x":0.14,"y":0.42},{"x":-0.1,"y":0.41},{"x":0.28,"y":0.41},{"x":-0.44,"y":0.4},{"x":-0.2,"y":0.39},{"x":0.04,"y":0.39},{"x":0.2,"y":0.38},{"x":-0.34,"y":0.37},{"x":-0.08,"y":0.37},{"x":0.42,"y":0.36},{"x":0.12,"y":0.35},{"x":-0.24,"y":0.35},{"x":-0.44,"y":0.34},{"x":0.3,"y":0.34},{"x":-0.02,"y":0.33},{"x":-0.16,"y":0.32},{"x":0.18,"y":0.32},{"x":-0.34,"y":0.31},{"x":0.06,"y":0.3},{"x":-0.1,"y":0.3},{"x":0.36,"y":0.29},{"x":-0.26,"y":0.29},{"x":0.24,"y":0.28},{"x":-0.42,"y":0.28},{"x":-0.02,"y":0.27},{"x":0.12,"y":0.27},{"x":-0.18,"y":0.26},{"x":-0.32,"y":0.25},{"x":0.3,"y":0.25},{"x":0.02,"y":0.24},{"x":-0.1,"y":0.24},{"x":0.18,"y":0.23},{"x":-0.24,"y":0.23},{"x":-0.36,"y":0.22},{"x":0.08,"y":0.22},{"x":-0.04,"y":0.21},{"x":0.24,"y":0.21},{"x":-0.16,"y":0.2},{"x":-0.28,"y":0.2},{"x":0.14,"y":0.19},{"x":0.02,"y":0.19},{"x":-0.1,"y":0.18},{"x":-0.2,"y":0.18},{"x":0.08,"y":0.17},{"x":-0.04,"y":0.16},{"x":-0.14,"y":0.16},{"x":0.04,"y":0.15},{"x":-0.06,"y":0.14},{"x":0.02,"y":0.13},{"x":-0.02,"y":0.12},{"x":-0.2,"y":0.48},{"x":0.1,"y":0.45},{"x":-0.34,"y":0.44},{"x":0.24,"y":0.43},{"x":-0.04,"y":0.4},{"x":-0.28,"y":0.39},{"x":0.14,"y":0.37},{"x":-0.14,"y":0.35},{"x":0.02,"y":0.36},{"x":0.24,"y":0.34},{"x":-0.38,"y":0.33},{"x":-0.26,"y":0.32},{"x":-0.04,"y":0.31},{"x":0.12,"y":0.31},{"x":-0.2,"y":0.29},{"x":0.02,"y":0.29},{"x":0.2,"y":0.29},{"x":-0.32,"y":0.28},{"x":-0.1,"y":0.27},{"x":0.08,"y":0.26},{"x":-0.26,"y":0.25},{"x":0.22,"y":0.25},{"x":-0.04,"y":0.25},{"x":-0.16,"y":0.23},{"x":0.12,"y":0.23},{"x":0,"y":0.22},{"x":-0.22,"y":0.21},{"x":0.18,"y":0.2},{"x":-0.08,"y":0.2},{"x":0.06,"y":0.2},{"x":-0.12,"y":0.19}]
},
"concat":[
{"width":215,"height":545,"layer":[
{"data":{"name":"h1"},"mark":{"type":"rect","stroke":null},"encoding":{"x":{"field":"x","type":"quantitative","scale":{"domain":[-0.64,2.89],"nice":false,"zero":false},"axis":null},"x2":{"field":"x2"},"y":{"field":"y","type":"quantitative","scale":{"domain":[17.17,-1.545],"nice":false,"zero":false},"axis":null},"y2":{"field":"y2"},"color":{"field":"v","type":"quantitative","scale":{"interpolate":"rgb","domain":[-1.38,-1.1,-0.8,-0.6,-0.42,-0.2,0,0.3,0.42,0.6,0.85,1,1.2,1.38],"range":["#000066","#1f3f96","#3a70bb","#4e9bdc","#62c8f7","#68cdb0","#9ade62","#e8f81e","#ffff00","#ffa500","#ff3000","#f40000","#c00000","#990000"]},"legend":{"orient":"none","legendX":322.5,"legendY":45,"title":null,"gradientLength":114,"gradientThickness":7.5,"gradientStrokeWidth":0,"labelFontSize":3,"labelColor":"#333333","labelOffset":3,"padding":0,"values":[-1,-0.5,0,0.5,1]}}}},
{"data":{"name":"d1"},"mark":{"type":"rule","color":"#777777","strokeWidth":0.8},"encoding":{"x":{"field":"x","type":"quantitative"},"x2":{"field":"x2"},"y":{"field":"y","type":"quantitative"},"y2":{"field":"y2"}}},
{"data":{"name":"t1"},"mark":{"type":"text","align":"left","baseline":"middle","fontSize":4,"color":"#333333"},"encoding":{"x":{"field":"x","type":"quantitative"},"y":{"field":"y","type":"quantitative"},"text":{"field":"t"}}},
{"data":{"values":[{"x":0.5,"y":17.12,"t":"g1"},{"x":1.5,"y":17.12,"t":"g1"},{"x":2.5,"y":17.12,"t":"g2"},{"x":3.5,"y":17.12,"t":"g2"}]},"mark":{"type":"text","fontSize":2.5,"color":"#555555"},"encoding":{"x":{"field":"x","type":"quantitative"},"y":{"field":"y","type":"quantitative"},"text":{"field":"t"}}},
{"data":{"values":[{"x":2,"y":-1.442,"t":"heatmap_plot"}]},"mark":{"type":"text","fontSize":3.5,"fontWeight":"bold","baseline":"alphabetic","color":"#333333"},"encoding":{"x":{"field":"x","type":"quantitative"},"y":{"field":"y","type":"quantitative"},"text":{"field":"t"}}},
{"data":{"values":[{"x":-0.69,"y":-1.133,"t":"A"},{"x":-0.805,"y":17.72,"t":"B"},{"x":-0.805,"y":25.74,"t":"C"}]},"mark":{"type":"text","fontSize":12,"fontWeight":"bold","align":"left","baseline":"alphabetic","color":"#000000"},"encoding":{"x":{"field":"x","type":"quantitative"},"y":{"field":"y","type":"quantitative"},"text":{"field":"t"}}}
]},
{"width":27,"height":1,"data":{"values":[]},"mark":{"type":"text"},"encoding":{}},
{"width":215,"height":1,"data":{"values":[]},"mark":{"type":"text"},"encoding":{}},
{"width":24,"height":1,"data":{"values":[]},"mark":{"type":"text"},"encoding":{}},
{"width":214,"height":545,"layer":[
{"data":{"name":"h2"},"mark":{"type":"rect","stroke":null},"encoding":{"x":{"field":"x","type":"quantitative","scale":{"domain":[1.326,4.817],"nice":false,"zero":false},"axis":null},"x2":{"field":"x2"},"y":{"field":"y","type":"quantitative","scale":{"domain":[8.065,-0.726],"nice":false,"zero":false},"axis":null},"y2":{"field":"y2"},"color":{"field":"v","type":"quantitative","scale":{"interpolate":"rgb","domain":[-1.32,-1.1,-0.8,-0.6,-0.42,-0.2,0,0.3,0.42,0.6,0.85,1,1.2,1.32],"range":["#000066","#1f3f96","#3a70bb","#4e9bdc","#62c8f7","#68cdb0","#9ade62","#e8f81e","#ffff00","#ffa500","#ff3000","#f40000","#b80000","#990000"]},"legend":{"orient":"none","legendX":202,"legendY":45,"title":null,"gradientLength":115,"gradientThickness":7.5,"gradientStrokeWidth":0,"labelFontSize":3,"labelColor":"#333333","labelOffset":3,"padding":0,"values":[-1,-0.5,0,0.5,1]}}}},
{"data":{"name":"d2"},"mark":{"type":"rule","color":"#777777","strokeWidth":0.8},"encoding":{"x":{"field":"x","type":"quantitative"},"x2":{"field":"x2"},"y":{"field":"y","type":"quantitative"},"y2":{"field":"y2"}}},
{"data":{"name":"t2"},"mark":{"type":"text","align":"left","baseline":"middle","fontSize":4,"color":"#333333"},"encoding":{"x":{"field":"x","type":"quantitative"},"y":{"field":"y","type":"quantitative"},"text":{"field":"t"}}},
{"data":{"values":[{"x":0.5,"y":8.055,"t":"g1"},{"x":1.5,"y":8.055,"t":"g1"},{"x":2.5,"y":8.055,"t":"g3"},{"x":3.5,"y":8.055,"t":"g3"}]},"mark":{"type":"text","fontSize":2.5,"color":"#555555"},"encoding":{"x":{"field":"x","type":"quantitative"},"y":{"field":"y","type":"quantitative"},"text":{"field":"t"}}},
{"data":{"values":[{"x":2,"y":-0.677,"t":"heatmap_plot"}]},"mark":{"type":"text","fontSize":3.5,"fontWeight":"bold","baseline":"alphabetic","color":"#333333"},"encoding":{"x":{"field":"x","type":"quantitative"},"y":{"field":"y","type":"quantitative"},"text":{"field":"t"}}}
]},

{"width":215,"height":208,"view":{"fill":"#ebebeb","stroke":null},"title":{"text":"g2 VS g1","offset":2.5},"layer":[
{"data":{"name":"b1g"},"mark":{"type":"circle","size":3.5,"color":"#bdbdbd","opacity":1},"encoding":{"x":{"field":"x","type":"quantitative","title":"g1","scale":{"domain":[-1.139,4.304],"nice":false,"zero":false},"axis":{"values":[-1,0,1,2,3,4],"grid":true,"titleAngle":90}},"y":{"field":"y","type":"quantitative","title":"g2","scale":{"domain":[-1.17,4.256],"nice":false,"zero":false},"axis":{"values":[-1,0,1,2,3,4],"grid":true}}}},
{"data":{"values":[{"x":-1.2,"y":-0.6,"x2":4.4,"y2":5,"c":"#e7a6a6"},{"x":-1.2,"y":-1.2,"x2":4.4,"y2":4.4,"c":"#777777"},{"x":-1.2,"y":-1.82,"x2":4.4,"y2":3.78,"c":"#8a8ac8"}]},"mark":{"type":"rule","strokeWidth":0.5,"clip":true},"encoding":{"x":{"field":"x","type":"quantitative"},"x2":{"field":"x2"},"y":{"field":"y","type":"quantitative"},"y2":{"field":"y2"},"color":{"field":"c","type":"nominal","scale":null}}},
{"data":{"name":"b1c"},"mark":{"type":"circle","size":4.5,"opacity":1},"encoding":{"x":{"field":"x","type":"quantitative"},"y":{"field":"y","type":"quantitative"},"color":{"field":"c","type":"nominal","legend":null,"scale":{"domain":["up","down"],"range":["#e3141e","#1c1cc4"]}}}}
]},
{"width":27,"height":1,"data":{"values":[]},"mark":{"type":"text"},"encoding":{}},
{"width":214,"height":209.5,"view":{"fill":"#ebebeb","stroke":null},"title":"g3 VS g1","layer":[
{"data":{"name":"b2g"},"mark":{"type":"circle","size":3.5,"color":"#bdbdbd","opacity":1},"encoding":{"x":{"field":"x","type":"quantitative","title":"g1","scale":{"domain":[-1.103,4.26],"nice":false,"zero":false},"axis":{"values":[-1,0,1,2,3,4],"grid":true}},"y":{"field":"y","type":"quantitative","title":"g3","scale":{"domain":[-1.274,4.29],"nice":false,"zero":false},"axis":{"values":[-1,0,1,2,3,4],"grid":true}}}},
{"data":{"values":[{"x":-1.2,"y":-0.62,"x2":4.4,"y2":4.98,"c":"#e7a6a6"},{"x":-1.2,"y":-1.2,"x2":4.4,"y2":4.4,"c":"#777777"},{"x":-1.2,"y":-1.79,"x2":4.4,"y2":3.81,"c":"#8a8ac8"}]},"mark":{"type":"rule","strokeWidth":0.5,"clip":true},"encoding":{"x":{"field":"x","type":"quantitative"},"x2":{"field":"x2"},"y":{"field":"y","type":"quantitative"},"y2":{"field":"y2"},"color":{"field":"c","type":"nominal","scale":null}}},
{"data":{"name":"b2c"},"mark":{"type":"circle","size":4.5,"opacity":1},"encoding":{"x":{"field":"x","type":"quantitative"},"y":{"field":"y","type":"quantitative"},"color":{"field":"c","type":"nominal","legend":null,"scale":{"domain":["up","down"],"range":["#e3141e","#1c1cc4"]}}}}
]},
{"width":24,"height":1,"data":{"values":[]},"mark":{"type":"text"},"encoding":{}},
{"width":213,"height":210,"view":{"fill":"#ebebeb","stroke":null},"title":"g3 VS g2","layer":[
{"data":{"name":"b3g"},"mark":{"type":"circle","size":3.5,"color":"#bdbdbd","opacity":1},"encoding":{"x":{"field":"x","type":"quantitative","title":"g2","scale":{"domain":[-1.168,4.239],"nice":false,"zero":false},"axis":{"values":[-1,0,1,2,3,4],"grid":true}},"y":{"field":"y","type":"quantitative","title":"g3","scale":{"domain":[-1.288,4.29],"nice":false,"zero":false},"axis":{"values":[-1,0,1,2,3,4],"grid":true}}}},
{"data":{"values":[{"x":-1.2,"y":-0.6,"x2":4.4,"y2":5,"c":"#e7a6a6"},{"x":-1.2,"y":-1.2,"x2":4.4,"y2":4.4,"c":"#777777"},{"x":-1.2,"y":-1.82,"x2":4.4,"y2":3.78,"c":"#8a8ac8"}]},"mark":{"type":"rule","strokeWidth":0.5,"clip":true},"encoding":{"x":{"field":"x","type":"quantitative"},"x2":{"field":"x2"},"y":{"field":"y","type":"quantitative"},"y2":{"field":"y2"},"color":{"field":"c","type":"nominal","scale":null}}},
{"data":{"name":"b3c"},"mark":{"type":"circle","size":4.5,"color":"#e3141e","opacity":1},"encoding":{"x":{"field":"x","type":"quantitative"},"y":{"field":"y","type":"quantitative"}}},
{"data":{"values":[{"x":0.96,"x2":4.239,"y":4.19,"y2":4.29}]},"mark":{"type":"rect","color":"#ffffff"},"encoding":{"x":{"field":"x","type":"quantitative"},"x2":{"field":"x2"},"y":{"field":"y","type":"quantitative"},"y2":{"field":"y2"}}}
]},

{"width":215,"height":209,"view":{"fill":"#ebebeb","stroke":null},"title":{"text":"g2_VS_g1_volcano_plot.png","offset":3.5},"layer":[
{"data":{"values":[{"x":-0.66,"x2":-0.66,"y":-0.004,"y2":2.534},{"x":0.66,"x2":0.66,"y":-0.004,"y2":2.534},{"x":-13.2,"x2":13.24,"y":0.114,"y2":0.114}]},"mark":{"type":"rule","color":"#ffffff","strokeWidth":0.9},"encoding":{"x":{"field":"x","type":"quantitative","title":"log2 fold change","scale":{"domain":[-13.2,13.24],"nice":false,"zero":false},"axis":{"values":[-10,-5,-0.6,0,0.6,5,10],"format":".2~f","grid":true}},"x2":{"field":"x2"},"y":{"field":"y","type":"quantitative","title":"-log10 p-value","scale":{"domain":[-0.004,2.534],"nice":false,"zero":false},"axis":{"values":[1],"labelExpr":"'10'","grid":true}},"y2":{"field":"y2"}}},
{"data":{"name":"c1g"},"mark":{"type":"circle","size":4,"color":"#bdbdbd","opacity":1},"encoding":{"x":{"field":"x","type":"quantitative"},"y":{"field":"y","type":"quantitative"}}},
{"data":{"name":"c1c"},"mark":{"type":"circle","size":4.5,"opacity":1},"encoding":{"x":{"field":"x","type":"quantitative"},"y":{"field":"y","type":"quantitative"},"color":{"field":"c","type":"nominal","legend":null,"scale":{"domain":["up","down"],"range":["#e3141e","#1c1cc4"]}}}}
]},
{"width":27,"height":1,"data":{"values":[]},"mark":{"type":"text"},"encoding":{}},
{"width":215,"height":211,"view":{"fill":"#ebebeb","stroke":null},"title":"g3_VS_g1_volcano_plot.png","layer":[
{"data":{"values":[{"x":-0.66,"x2":-0.66,"y":0.04,"y2":1.838},{"x":0.66,"x2":0.66,"y":0.04,"y2":1.838},{"x":-13.25,"x2":13.3,"y":0.114,"y2":0.114}]},"mark":{"type":"rule","color":"#ffffff","strokeWidth":0.9},"encoding":{"x":{"field":"x","type":"quantitative","title":"log2 fold change","scale":{"domain":[-13.25,13.3],"nice":false,"zero":false},"axis":{"values":[-10,-5,-0.6,0,0.6,5,10],"format":".2~f","grid":true}},"x2":{"field":"x2"},"y":{"field":"y","type":"quantitative","title":"-log10 p-value","scale":{"domain":[0.04,1.838],"nice":false,"zero":false},"axis":{"values":[1],"labelExpr":"'10'","grid":true}},"y2":{"field":"y2"}}},
{"data":{"name":"c2g"},"mark":{"type":"circle","size":4,"color":"#bdbdbd","opacity":1},"encoding":{"x":{"field":"x","type":"quantitative"},"y":{"field":"y","type":"quantitative"}}},
{"data":{"name":"c2c"},"mark":{"type":"circle","size":4.5,"opacity":1},"encoding":{"x":{"field":"x","type":"quantitative"},"y":{"field":"y","type":"quantitative"},"color":{"field":"c","type":"nominal","legend":null,"scale":{"domain":["up","down"],"range":["#e3141e","#1c1cc4"]}}}}
]},
{"width":24,"height":1,"data":{"values":[]},"mark":{"type":"text"},"encoding":{}},
{"width":214,"height":212,"view":{"fill":"#ebebeb","stroke":null},"title":"g3_VS_g2_volcano_plot.png","layer":[
{"data":{"values":[{"x":-0.66,"x2":-0.66,"y":0.027,"y2":1.92},{"x":0.66,"x2":0.66,"y":0.027,"y2":1.92},{"x":-13.24,"x2":13.07,"y":0.114,"y2":0.114}]},"mark":{"type":"rule","color":"#ffffff","strokeWidth":0.9},"encoding":{"x":{"field":"x","type":"quantitative","title":"log2 fold change","scale":{"domain":[-13.24,13.07],"nice":false,"zero":false},"axis":{"values":[-10,-5,-0.6,0,0.6,5,10],"format":".2~f","grid":true}},"x2":{"field":"x2"},"y":{"field":"y","type":"quantitative","title":"-log10 p-value","scale":{"domain":[0.027,1.92],"nice":false,"zero":false},"axis":{"values":[1],"labelExpr":"'10'","grid":true}},"y2":{"field":"y2"}}},
{"data":{"name":"c3g"},"mark":{"type":"circle","size":4,"color":"#bdbdbd","opacity":1},"encoding":{"x":{"field":"x","type":"quantitative"},"y":{"field":"y","type":"quantitative"}}},
{"data":{"name":"c3c"},"mark":{"type":"circle","size":4.5,"color":"#e3141e","opacity":1},"encoding":{"x":{"field":"x","type":"quantitative"},"y":{"field":"y","type":"quantitative"}}}
]}
]}
